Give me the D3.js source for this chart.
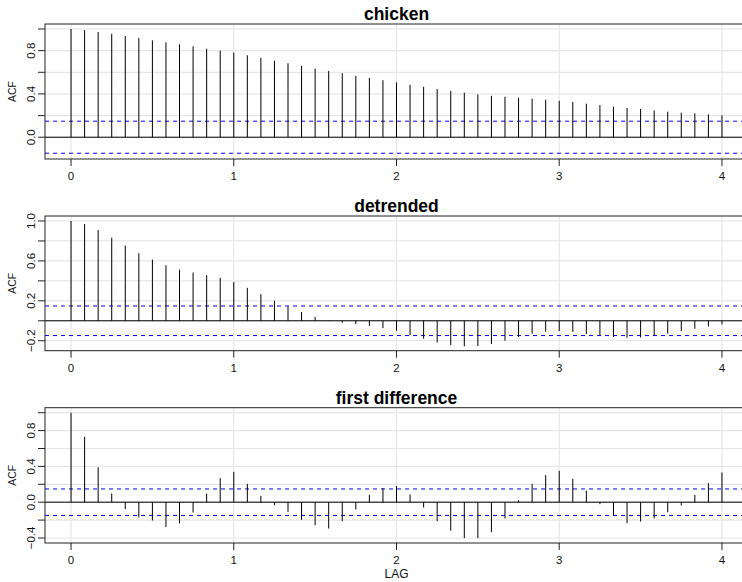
<!DOCTYPE html>
<html>
<head>
<meta charset="utf-8">
<script src="https://cdn.jsdelivr.net/npm/d3@7"></script>
<style>
  html, body { margin: 0; padding: 0; background: #fff; }
  svg { display: block; font-family: "Liberation Sans", Arial, Helvetica, sans-serif; }
</style>
</head>
<body>
<svg id="chart" width="742" height="582"></svg>
<script>
// ---- data ----
const lags = d3.range(0, 49).map(k => k / 12);
const titles = ["chicken", "detrended", "first difference"];
const chickenACF = [1.000, 0.990, 0.972, 0.956, 0.935, 0.916, 0.895, 0.877, 0.858, 0.840, 0.818, 0.800,
  0.782, 0.757, 0.733, 0.708, 0.684, 0.659, 0.634, 0.613, 0.592, 0.567, 0.549, 0.527,
  0.506, 0.484, 0.466, 0.444, 0.429, 0.411, 0.395, 0.383, 0.374, 0.365, 0.356, 0.346,
  0.337, 0.325, 0.310, 0.297, 0.282, 0.270, 0.261, 0.248, 0.236, 0.227, 0.221, 0.211, 0.202];
const detrendedACF = [1.000, 0.970, 0.910, 0.833, 0.753, 0.677, 0.613, 0.557, 0.513, 0.483, 0.457, 0.430,
  0.387, 0.330, 0.267, 0.200, 0.143, 0.087, 0.037, 0.003, -0.020, -0.033, -0.053, -0.073,
  -0.100, -0.143, -0.180, -0.217, -0.243, -0.257, -0.253, -0.233, -0.200, -0.163, -0.130, -0.110,
  -0.103, -0.110, -0.133, -0.150, -0.163, -0.170, -0.167, -0.150, -0.130, -0.103, -0.080, -0.057, -0.037];
const firstDiffACF = [1.000, 0.730, 0.391, 0.097, -0.078, -0.171, -0.205, -0.276, -0.238, -0.115, 0.097, 0.268,
  0.339, 0.205, 0.071, -0.034, -0.108, -0.197, -0.257, -0.294, -0.212, -0.082, 0.082, 0.156,
  0.182, 0.086, -0.060, -0.212, -0.317, -0.402, -0.402, -0.335, -0.182, 0.022, 0.205, 0.302,
  0.350, 0.261, 0.130, -0.022, -0.145, -0.235, -0.216, -0.182, -0.112, -0.037, 0.082, 0.212, 0.331];
const ciBound = 0.148;
const xTicks = [0, 1, 2, 3, 4];
const yTicksChicken = [0, 0.2, 0.4, 0.6, 0.8, 1.0];
const yLabelsChicken = [0, 0.4, 0.8];
const yTicksDetrended = [-0.2, 0, 0.2, 0.4, 0.6, 0.8, 1.0];
const yLabelsDetrended = [-0.2, 0.2, 0.6, 1.0];
const yTicksDiff = [-0.4, -0.2, 0, 0.2, 0.4, 0.6, 0.8, 1.0];
const yLabelsDiff = [-0.4, 0, 0.4, 0.8];

// ---- layout ----
const svg = d3.select("#chart");
const left = 45, right = 748;
const x = d3.scaleLinear().domain([-0.16, 4.16]).range([left, right]);

const panels = [
  { title: titles[0], values: chickenACF, top: 24, bottom: 159, ylim: [-0.155, 1.0], ticks: yTicksChicken, labels: yLabelsChicken },
  { title: titles[1], values: detrendedACF, top: 216, bottom: 350.7, ylim: [-0.25, 1.0], ticks: yTicksDetrended, labels: yLabelsDetrended },
  { title: titles[2], values: firstDiffACF, top: 407.7, bottom: 543, ylim: [-0.4, 1.0], ticks: yTicksDiff, labels: yLabelsDiff }
];

const fmt = v => (Math.abs(v) < 1e-9 ? "0.0" : d3.format(".1f")(v).replace("-", "\u2212"));

panels.forEach((p, i) => {
  const ext = (p.ylim[1] - p.ylim[0]) * 0.04;
  const y = d3.scaleLinear().domain([p.ylim[0] - ext, p.ylim[1] + ext]).range([p.bottom, p.top]);
  const g = svg.append("g");

  // clip
  const clipId = "clip" + i;
  svg.append("clipPath").attr("id", clipId).append("rect")
    .attr("x", left).attr("y", p.top).attr("width", right - left).attr("height", p.bottom - p.top);
  const inner = g.append("g").attr("clip-path", `url(#${clipId})`);

  // grid
  inner.selectAll(".hg").data(p.ticks).join("line")
    .attr("x1", left).attr("x2", right)
    .attr("y1", d => y(d)).attr("y2", d => y(d))
    .attr("stroke", "#e6e6e6").attr("stroke-width", 1.2);
  inner.selectAll(".vg").data(xTicks).join("line")
    .attr("x1", d => x(d)).attr("x2", d => x(d))
    .attr("y1", p.top).attr("y2", p.bottom)
    .attr("stroke", "#e6e6e6").attr("stroke-width", 1.2);

  // confidence bounds
  [ciBound, -ciBound].forEach(c => {
    inner.append("line")
      .attr("x1", left).attr("x2", right)
      .attr("y1", y(c)).attr("y2", y(c))
      .attr("stroke", "#0000ff").attr("stroke-width", 1)
      .attr("stroke-dasharray", "4,4");
  });

  // zero line
  inner.append("line")
    .attr("x1", left).attr("x2", right)
    .attr("y1", y(0)).attr("y2", y(0))
    .attr("stroke", "#000").attr("stroke-width", 1);

  // ACF spikes
  inner.selectAll(".spike").data(p.values).join("line")
    .attr("x1", (d, k) => x(lags[k])).attr("x2", (d, k) => x(lags[k]))
    .attr("y1", y(0)).attr("y2", d => y(d))
    .attr("stroke", "#000").attr("stroke-width", 1);

  // box
  g.append("rect")
    .attr("x", left).attr("y", p.top)
    .attr("width", right - left).attr("height", p.bottom - p.top)
    .attr("fill", "none").attr("stroke", "#222").attr("stroke-width", 1);

  // y ticks
  g.selectAll(".yt").data(p.ticks).join("line")
    .attr("x1", left - 7).attr("x2", left)
    .attr("y1", d => y(d)).attr("y2", d => y(d))
    .attr("stroke", "#222").attr("stroke-width", 1);
  g.selectAll(".yl").data(p.labels).join("text")
    .attr("transform", d => `translate(35,${y(d)}) rotate(-90)`)
    .attr("text-anchor", "middle")
    .attr("font-size", 11.5)
    .attr("fill", "#111")
    .text(d => fmt(d));

  // x ticks
  g.selectAll(".xt").data(xTicks).join("line")
    .attr("x1", d => x(d)).attr("x2", d => x(d))
    .attr("y1", p.bottom).attr("y2", p.bottom + 7)
    .attr("stroke", "#222").attr("stroke-width", 1);
  g.selectAll(".xl").data(xTicks).join("text")
    .attr("x", d => x(d)).attr("y", p.bottom + 21)
    .attr("text-anchor", "middle")
    .attr("font-size", 11.5)
    .attr("fill", "#111")
    .text(d => d);

  // y label
  g.append("text")
    .attr("transform", `translate(16,${(p.top + p.bottom) / 2}) rotate(-90)`)
    .attr("text-anchor", "middle")
    .attr("font-size", 10.5)
    .attr("fill", "#111")
    .text("ACF");

  // title
  g.append("text")
    .attr("x", (left + right) / 2).attr("y", p.top - 4)
    .attr("text-anchor", "middle")
    .attr("font-size", 17.5)
    .attr("font-weight", "bold")
    .attr("fill", "#000")
    .text(p.title);

  if (i === panels.length - 1) {
    g.append("text")
      .attr("x", (left + right) / 2).attr("y", p.bottom + 34.5)
      .attr("text-anchor", "middle")
      .attr("font-size", 12)
      .attr("fill", "#111")
      .text("LAG");
  }
});
</script>
</body>
</html>
